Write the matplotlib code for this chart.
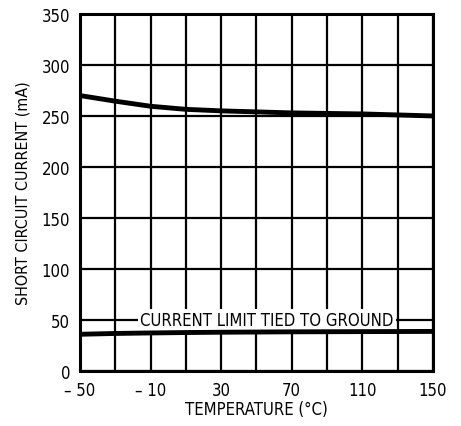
import numpy as np
import matplotlib
matplotlib.use("Agg")
import matplotlib.pyplot as plt

plt.rcParams['font.family'] = ['DejaVu Sans']
plt.rcParams['font.stretch'] = 'condensed'

# curve readings (temperature degC, current mA)
temp = [-50, -30, -10, 10, 30, 50, 70, 90, 110, 130, 150]
i_open = [270, 264.5, 259.5, 256.5, 255, 254, 253, 252.5, 252, 251, 250]
i_gnd = [36, 36.8, 37.3, 37.7, 38, 38.2, 38.4, 38.5, 38.6, 38.7, 38.8]

xticks = [-50, -10, 30, 70, 110, 150]
xticklabels = ['\u2013 50', '\u2013 10', '30', '70', '110', '150']
yticks = [0, 50, 100, 150, 200, 250, 300, 350]

fig = plt.figure(figsize=(4.61, 4.27), dpi=100)
ax = fig.add_axes([0.1735, 0.1288, 0.7655, 0.8362])

ax.set_xlim(-50, 150)
ax.set_ylim(0, 350)
ax.set_xticks(xticks)
ax.set_xticklabels(xticklabels)
ax.set_xticks(np.arange(-50, 151, 20), minor=True)
ax.set_yticks(yticks)
ax.tick_params(which='both', length=0, labelsize=12, pad=7)
ax.grid(which='both', axis='x', color='black', lw=1.6, zorder=1)
ax.grid(which='major', axis='y', color='black', lw=1.6, zorder=1)
for s in ax.spines.values():
    s.set_linewidth(2.2)
    s.set_zorder(4)

ax.plot(temp, i_open, color='black', lw=3.5, solid_capstyle='butt', zorder=3)
ax.plot(temp, i_gnd, color='black', lw=3.5, solid_capstyle='butt', zorder=3)

ax.text(56, 50, 'CURRENT LIMIT TIED TO GROUND', ha='center', va='center',
        fontsize=12, zorder=2,
        bbox=dict(facecolor='white', edgecolor='none', pad=1.5))

ax.set_xlabel('TEMPERATURE (\u00b0C)', fontsize=12, labelpad=1)
ax.set_ylabel('SHORT CIRCUIT CURRENT (mA)', fontsize=11.5, labelpad=8)

fig.savefig('out.png', dpi=100)
